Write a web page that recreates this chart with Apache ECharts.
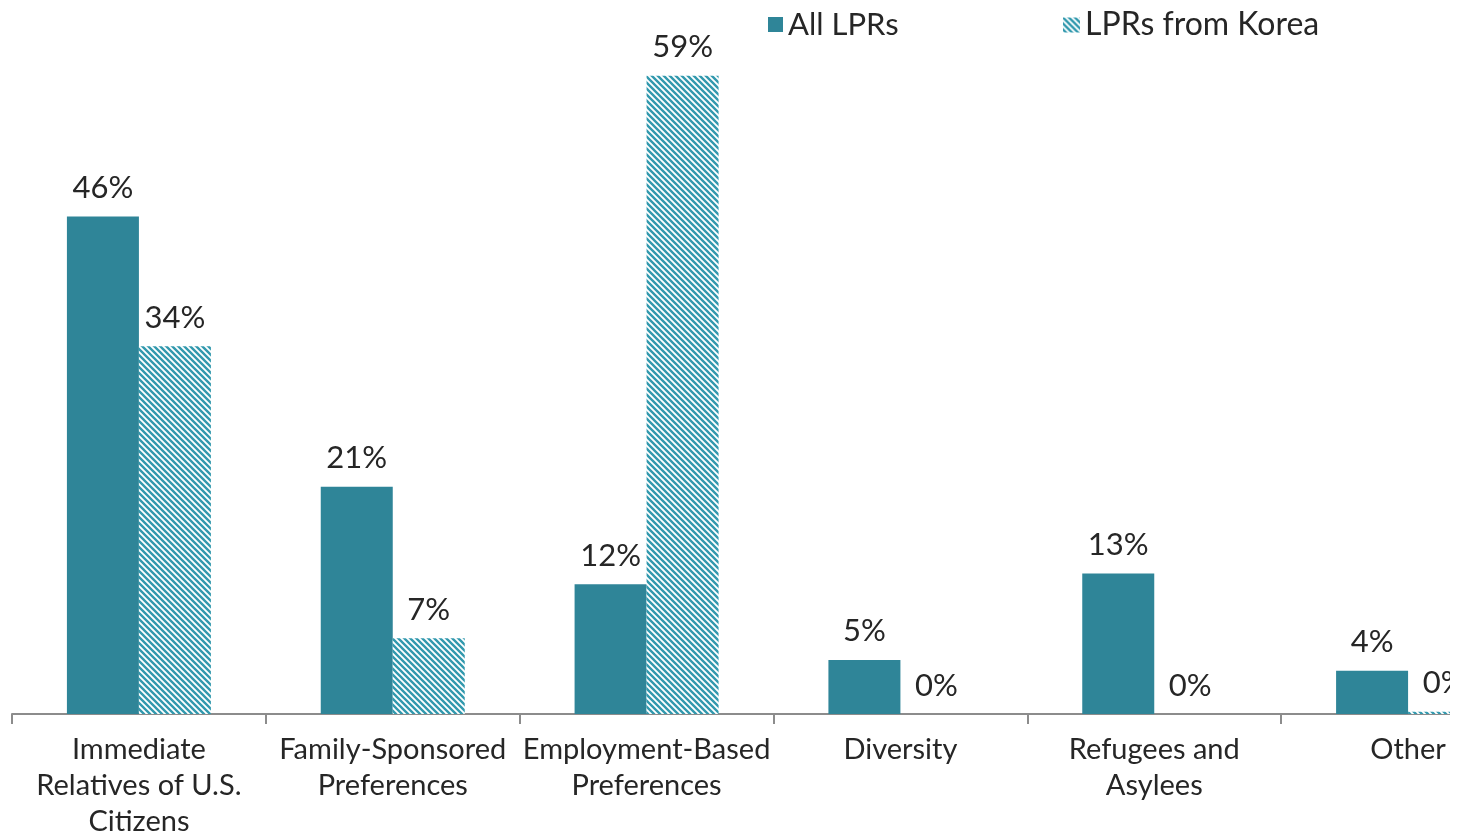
<!DOCTYPE html>
<html>
<head>
<meta charset="utf-8">
<script src="https://cdn.jsdelivr.net/npm/echarts@6/dist/echarts.min.js"></script>
<style>
  html, body { margin: 0; padding: 0; background: #fff; }
  #wrap { width: 1450px; height: 840px; overflow: hidden; }
  #main { width: 1535px; height: 840px; }
</style>
</head>
<body>
<div id="wrap"><div id="main"></div></div>
<script>
// categories and values (percent)
const categories = [
  "Immediate\nRelatives of U.S.\nCitizens",
  "Family-Sponsored\nPreferences",
  "Employment-Based\nPreferences",
  "Diversity",
  "Refugees and\nAsylees",
  "Other"
];
const allLPRs = [46, 21, 12, 5, 13, 4];
const koreaLPRs = [34, 7, 59, 0, 0, 0.2];

const solidColor = "#2f8598";
const hatchColor = "#3299ae";

// diagonal hatch pattern (top-left to bottom-right)
function makeHatch() {
  const s = 6;
  const c = document.createElement("canvas");
  c.width = s;
  c.height = s;
  const ctx = c.getContext("2d");
  ctx.fillStyle = "#fff";
  ctx.fillRect(0, 0, s, s);
  ctx.strokeStyle = hatchColor;
  ctx.lineWidth = 2.4;
  ctx.beginPath();
  ctx.moveTo(-1, -1); ctx.lineTo(s + 1, s + 1);
  ctx.moveTo(-1, s - 1); ctx.lineTo(1, s + 1);
  ctx.moveTo(s - 1, -1); ctx.lineTo(s + 1, 1);
  ctx.stroke();
  return c;
}
const hatch = { image: makeHatch(), repeat: "repeat" };

const font = "Lato, 'Noto Sans', sans-serif";
const labelStyle = {
  show: true,
  position: "top",
  distance: 13,
  formatter: p => Math.round(p.value) + "%",
  fontFamily: font,
  fontSize: 31,
  color: "#262626"
};

const chart = echarts.init(document.getElementById("main"));
chart.setOption({
  animation: false,
  textStyle: { fontFamily: font },
  legend: [
    {
      data: [{ name: "All LPRs", icon: "rect" }],
      left: 763,
      top: 4,
      itemWidth: 15,
      itemHeight: 15,
      textStyle: { fontSize: 31, color: "#262626", fontFamily: font }
    },
    {
      data: [{ name: "LPRs from Korea", icon: "rect" }],
      left: 1058,
      top: 4,
      itemWidth: 17,
      itemHeight: 15,
      itemGap: 8,
      textStyle: { fontSize: 32, color: "#262626", fontFamily: font }
    }
  ],
  grid: { left: 12, right: 0, top: 65, bottom: 123 },
  xAxis: {
    type: "category",
    data: categories,
    axisLine: { lineStyle: { color: "#8c8c8c", width: 2 } },
    axisTick: { show: true, length: 10, lineStyle: { color: "#8c8c8c", width: 2 } },
    axisLabel: {
      interval: 0,
      margin: 18,
      fontSize: 29,
      lineHeight: 36,
      color: "#262626",
      fontFamily: font
    }
  },
  yAxis: {
    type: "value",
    min: 0,
    max: 60,
    show: false,
    splitLine: { show: false }
  },
  series: [
    {
      name: "All LPRs",
      type: "bar",
      data: allLPRs,
      barWidth: 72,
      barGap: "0%",
      itemStyle: { color: solidColor },
      label: labelStyle
    },
    {
      name: "LPRs from Korea",
      type: "bar",
      data: koreaLPRs,
      barWidth: 72,
      itemStyle: { color: hatch },
      label: labelStyle
    }
  ]
});
</script>
</body>
</html>
